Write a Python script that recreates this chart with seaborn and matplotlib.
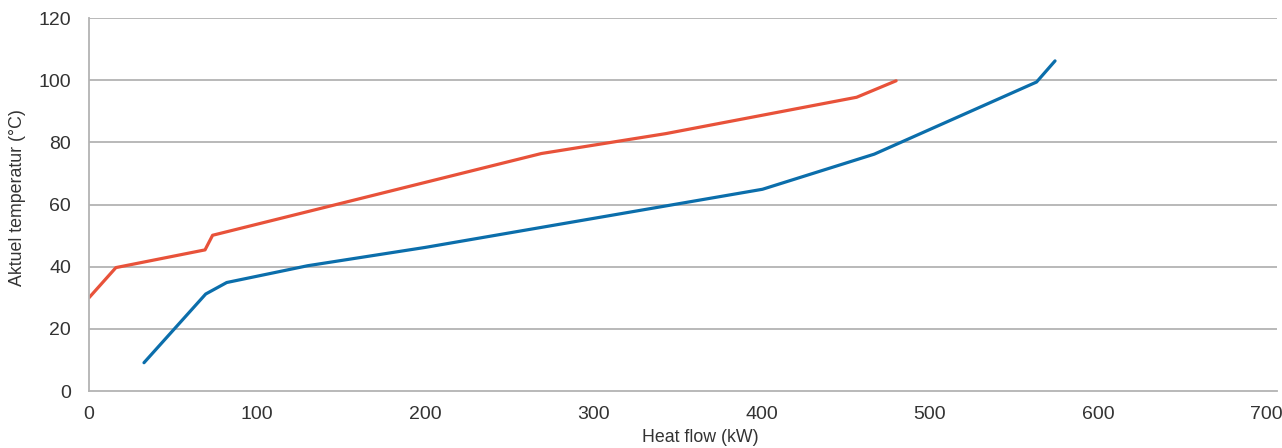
import matplotlib
matplotlib.use("Agg")
import matplotlib.pyplot as plt
import pandas as pd
import seaborn as sns

# Data
red_x = [0, 16, 69, 73.5, 269, 343, 456.5, 480]
red_y = [30, 39.7, 45.4, 50.1, 76.4, 82.8, 94.5, 99.8]
blue_x = [32.7, 69.4, 81.9, 130, 200, 400.5, 467, 563.5, 574.5]
blue_y = [9.1, 31.2, 34.9, 40.3, 46.2, 64.9, 76.2, 99.4, 106.2]
x_ticks = [0, 100, 200, 300, 400, 500, 600, 700]
y_ticks = [0, 20, 40, 60, 80, 100, 120]

df = pd.concat([
    pd.DataFrame({"x": red_x, "y": red_y, "serie": "red"}),
    pd.DataFrame({"x": blue_x, "y": blue_y, "serie": "blue"}),
])

sns.set_style("white")
plt.rcParams['font.family'] = ['Liberation Sans', 'DejaVu Sans']

fig = plt.figure(figsize=(12.82, 4.48), dpi=100)
ax = fig.add_axes([89 / 1282, 1 - 391 / 448, (1277 - 89) / 1282, (391 - 18) / 448])

grid_col = '#b3b3b3'
for yv in y_ticks[1:]:
    ax.axhline(yv, color=grid_col, lw=1.3, zorder=0)

sns.lineplot(data=df, x="x", y="y", hue="serie", sort=False, estimator=None,
             palette={"red": "#e8523a", "blue": "#0b6eab"}, lw=2.3,
             legend=False, ax=ax)

ax.set_xlim(0, 706.5)
ax.set_ylim(0, 120)
ax.set_xticks(x_ticks)
ax.set_yticks(y_ticks)
ax.tick_params(axis='x', direction='in', length=21.5, width=1.1, color=grid_col,
               pad=10.5, labelsize=14, labelcolor='#333333')
ax.tick_params(axis='y', length=0, pad=13, labelsize=14, labelcolor='#333333')

for s in ['top', 'right']:
    ax.spines[s].set_visible(False)
for s in ['left', 'bottom']:
    ax.spines[s].set_color(grid_col)
    ax.spines[s].set_linewidth(1.3)

ax.set_xlabel('Heat flow (kW)', fontsize=12.8, color='#333333')
ax.xaxis.set_label_coords((700 - 89) / (1277 - 89), -0.102)
ax.set_ylabel('Aktuel temperatur (°C)', fontsize=12.8, color='#333333')
ax.yaxis.set_label_coords(-0.053, (391 - 198) / 373)

fig.savefig('out.png', dpi=100)
